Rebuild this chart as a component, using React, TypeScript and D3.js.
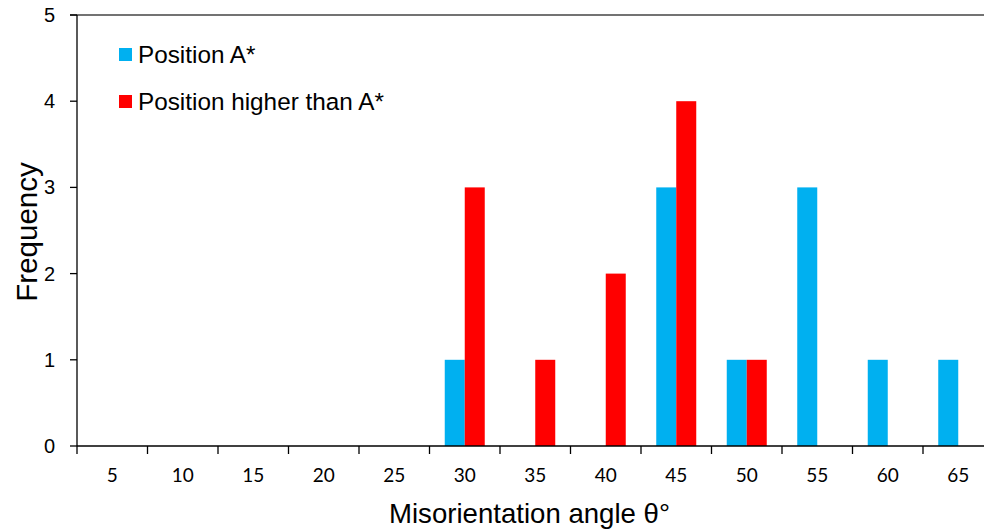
import React from "react";
import * as d3 from "d3";

const categories = ["5", "10", "15", "20", "25", "30", "35", "40", "45", "50", "55", "60", "65"];
const positionA = [0, 0, 0, 0, 0, 1, 0, 0, 3, 1, 3, 1, 1];
const positionHigher = [0, 0, 0, 0, 0, 3, 1, 2, 4, 1, 0, 0, 0];
const yTicks = [0, 1, 2, 3, 4, 5];
const seriesNames = ["Position A*", "Position higher than A*"];
const colors = ["#00B0F0", "#FF0000"];

export default function App() {
  const W = 984, H = 530;
  const left = 77, top = 15, bottom = 446, right = 993.5;
  const x = d3.scaleBand<string>().domain(categories).range([left, right]).padding(0);
  const y = d3.scaleLinear().domain([0, 5]).range([bottom, top]);
  const bw = 20;
  const series = [positionA, positionHigher];
  return (
    <svg width={W} height={H} style={{ position: "absolute", left: 0, top: 0, background: "#fff" }}>
      {series.map((vals, si) =>
        vals.map((v, i) => {
          if (!v) return null;
          const c = x(categories[i])! + x.bandwidth() / 2;
          const x0 = si === 0 ? c - bw : c;
          return (
            <rect key={`${si}-${i}`} x={x0} y={y(v)} width={bw} height={y(0) - y(v)} fill={colors[si]} />
          );
        })
      )}
      {/* top line */}
      <line x1={left - 7} x2={W} y1={y(5)} y2={y(5)} stroke="#444" strokeWidth={1.3} />
      {/* y axis */}
      <line x1={left} x2={left} y1={top} y2={bottom} stroke="#000" strokeWidth={1.3} />
      {yTicks.map((t) => (
        <g key={t}>
          <line x1={left - 7} x2={left} y1={y(t)} y2={y(t)} stroke="#000" strokeWidth={1.3} />
          <text x={55} y={y(t)} dy="0.35em" textAnchor="end" fontFamily="Liberation Sans, Arial, sans-serif" fontSize={20} fill="#000">
            {t}
          </text>
        </g>
      ))}
      {/* x axis */}
      <line x1={left} x2={W} y1={bottom} y2={bottom} stroke="#000" strokeWidth={1.3} />
      {categories.map((c, i) => (
        <g key={c}>
          <line x1={x(c)!} x2={x(c)!} y1={bottom} y2={bottom + 8} stroke="#000" strokeWidth={1.3} />
          <text x={x(c)! + x.bandwidth() / 2} y={475.5} dy="0.35em" textAnchor="middle" fontFamily="Lato, Carlito, sans-serif" fontSize={19} fill="#000">
            {c}
          </text>
        </g>
      ))}
      {/* axis titles */}
      <text x={529.5} y={523} textAnchor="middle" fontFamily="Liberation Sans, Arial, sans-serif" fontSize={27.6} fill="#000">
        Misorientation angle θ°
      </text>
      <text transform={`translate(37,232) rotate(-90)`} textAnchor="middle" fontFamily="Liberation Sans, Arial, sans-serif" fontSize={29.5} fill="#000">
        Frequency
      </text>
      {/* legend */}
      {seriesNames.map((n, i) => (
        <g key={n}>
          <rect x={119} y={48 + i * 47} width={13} height={13} fill={colors[i]} />
          <text x={138} y={54.5 + i * 47} dy="0.35em" fontFamily="Liberation Sans, Arial, sans-serif" fontSize={24.3} fill="#000">
            {n}
          </text>
        </g>
      ))}
    </svg>
  );
}
